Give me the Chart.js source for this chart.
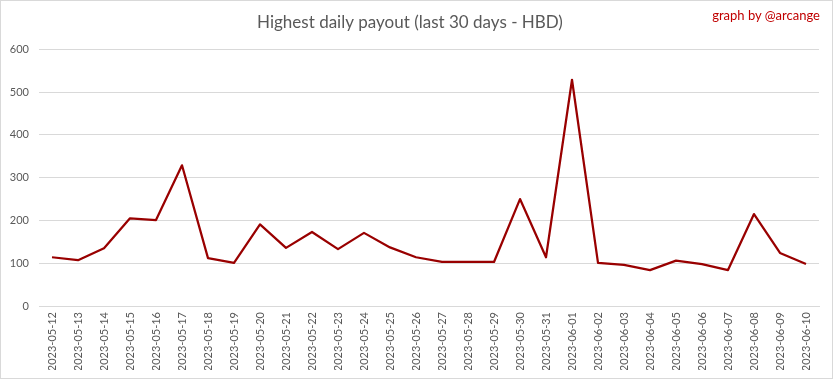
<!DOCTYPE html>
<html>
<head>
<meta charset="utf-8">
<script src="https://cdn.jsdelivr.net/npm/chart.js@4"></script>
<style>
html,body{margin:0;padding:0;background:#fff;}
#wrap{position:relative;width:833px;height:379px;box-sizing:border-box;border:1px solid #d9d9d9;overflow:hidden;}
#credit{position:absolute;right:12px;top:6px;font-family:Lato,"Liberation Sans",Arial,sans-serif;font-size:13px;color:#c00000;}
canvas{position:absolute;left:0;top:0;}
</style>
</head>
<body>
<div id="wrap">
<canvas id="c" width="831" height="377"></canvas>
<div id="credit">graph by @arcange</div>
</div>
<script>
const categories = ["2023-05-12","2023-05-13","2023-05-14","2023-05-15","2023-05-16","2023-05-17","2023-05-18","2023-05-19","2023-05-20","2023-05-21","2023-05-22","2023-05-23","2023-05-24","2023-05-25","2023-05-26","2023-05-27","2023-05-28","2023-05-29","2023-05-30","2023-05-31","2023-06-01","2023-06-02","2023-06-03","2023-06-04","2023-06-05","2023-06-06","2023-06-07","2023-06-08","2023-06-09","2023-06-10"];
const payout = [114,107,135,205,201,329,112,101,191,136,173,133,171,137,114,103,103,103,250,114,529,101,96,84,106,98,84,215,124,98];
const yTicks = [0,100,200,300,400,500,600];

const font = 'Lato,"Liberation Sans",Arial,sans-serif';
new Chart(document.getElementById('c'), {
  type: 'line',
  data: {
    labels: categories,
    datasets: [{
      data: payout,
      borderColor: '#990000',
      borderWidth: 2.25,
      borderJoinStyle: 'round',
      pointRadius: 0,
      tension: 0,
      fill: false
    }]
  },
  options: {
    responsive: false,
    animation: false,
    devicePixelRatio: 1,
    layout: { padding: { left: 0, right: 13, top: 0, bottom: 8 } },
    plugins: {
      legend: { display: false },
      tooltip: { enabled: false },
      title: {
        display: true,
        text: 'Highest daily payout (last 30 days - HBD)',
        color: '#595959',
        font: { family: font, size: 17, weight: 'normal' },
        padding: { top: 11, bottom: 17 }
      }
    },
    scales: {
      x: {
        offset: true,
        grid: { display: false, drawTicks: false },
        border: { display: true, color: '#d9d9d9', width: 1 },
        ticks: {
          color: '#595959',
          font: { family: font, size: 11 },
          maxRotation: 90,
          minRotation: 90,
          autoSkip: false,
          padding: 6
        },
        afterFit: (s) => { s.height = 64; }
      },
      y: {
        min: 0, max: 600,
        afterBuildTicks: (s) => { s.ticks = yTicks.map(v => ({ value: v })); },
        grid: { color: '#d9d9d9', lineWidth: 1, drawTicks: false },
        border: { display: false },
        ticks: {
          color: '#595959',
          font: { family: font, size: 11 },
          padding: 10
        },
        afterFit: (s) => { s.width = 38; }
      }
    }
  }
});
</script>
</body>
</html>
